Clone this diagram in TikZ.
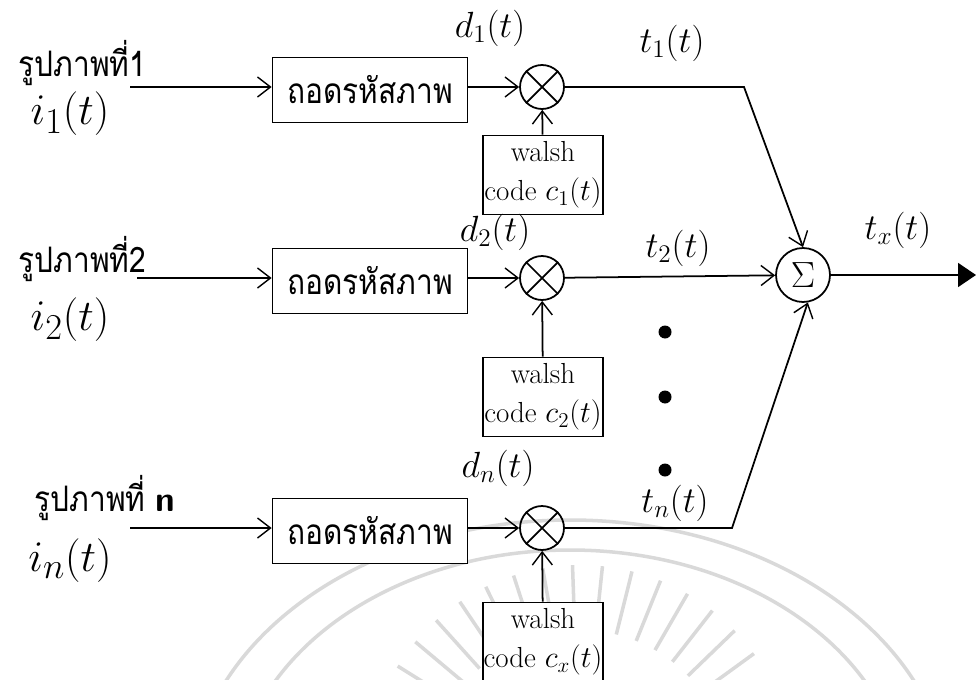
\documentclass[tikz,border=0pt]{standalone}
\usepackage{fontspec}
\usepackage{ifthen}
\newfontfamily\thaifont[Script=Thai,FakeStretch=0.85]{Loma}
\usetikzlibrary{arrows.meta}

\begin{document}
\begin{tikzpicture}[x=0.02cm,y=-0.02cm,line width=1pt,
	decoder/.style={draw,fill=white,minimum width=3.9cm,minimum height=1.3cm,inner sep=0pt,font={\thaifont\fontsize{20}{22}\selectfont}},
	walshbox/.style={draw,fill=white,minimum width=2.4cm,minimum height=1.58cm,inner sep=0pt,align=center,font={\fontsize{16.5}{22}\selectfont}},
	mixer/.style={draw,circle,minimum size=0.88cm,inner sep=0pt},
	adder/.style={draw,circle,minimum size=1.08cm,inner sep=0pt,font={\fontsize{20.74}{22}\selectfont}},
	bullet/.style={circle,fill,inner sep=0pt,minimum size=0.26cm},
	sig/.style={font={\fontsize{20.74}{24}\selectfont}},
	insig/.style={font={\fontsize{24.88}{28}\selectfont}},
	thai/.style={font={\thaifont\fontsize{20}{22}\selectfont}},
	barb/.style={-{Straight Barb[length=0.26cm,width=0.4cm,line width=0.8pt]}}
	]
\useasboundingbox (0,0) rectangle (976,679);
\clip (0,0) rectangle (976,679);

% faint seal behind the diagram
\begin{scope}[draw=black!15,line width=2pt]
	\draw (570,800) ellipse [x radius=380,y radius=280];
	\draw (570,800) ellipse [x radius=335,y radius=250];
	\foreach \a in {212,220,...,330}
		\draw (580,780) ++(\a:150) -- ++(\a:65);
\end{scope}

% one branch per picture
\foreach \k/\y/\lx/\ly/\iy/\wy/\dx/\dy/\tx/\ty/\sx/\cs in {
	1/87/12/63/114/175/490/28/672/43/130/1,
	2/278/12/259/320/397/495/232/678/248/137/2,
	n/528/28/498/561/642/498/468/675/503/130/x}
	{
	\ifthenelse{\equal{\k}{n}}{
		\node[thai,anchor=west] (pic\k) at (\lx,\ly) {รูปภาพที่ {\sffamily\bfseries n}};
	}{
		\node[thai,anchor=west] (pic\k) at (\lx,\ly) {รูปภาพที่\k};
	}
	\node[insig] (in\k) at (70,\iy) {$i_{\k}(t)$};
	\coordinate (start\k) at (\sx,\y);

	\node[decoder] (dec\k) at (370,\y+3) {ถอดรหัสภาพ};
	\node[mixer] (mix\k) at (542,\y) {};
	\draw (mix\k.north west) -- (mix\k.south east)
		(mix\k.north east) -- (mix\k.south west);
	\node[walshbox] (walsh\k) at (543,\wy) {walsh\\code $c_{\cs}(t)$};

	\node[sig] (d\k) at (\dx,\dy) {$d_{\k}(t)$};
	\node[sig] (t\k) at (\tx,\ty) {$t_{\k}(t)$};

	\draw [barb] (start\k) -- (dec\k.west |- start\k);
	\draw [barb] (dec\k.east |- mix\k) -- (mix\k);
	\draw [barb] (walsh\k) -- (mix\k);
	}

% summing point and output
\node[adder] (sum) at (803,275) {$\Sigma$};
\coordinate (bend1) at (744,87);
\coordinate (bendn) at (732,528);
\coordinate (out) at (976,275);

\draw [barb] (mix1) -- (bend1) -- (sum.north);
\draw [barb] (mix2) -- (sum);
\draw [barb] (mixn) -- (bendn) -- (sum.-80);
\draw [-{Triangle[length=0.36cm,width=0.48cm]}] (sum) -- (out);
\node[sig] (tx) at (898,230) {$t_{x}(t)$};

\foreach \b in {332,397,470}
	\node[bullet] (gap\b) at (665,\b) {};
\end{tikzpicture}
\end{document}
